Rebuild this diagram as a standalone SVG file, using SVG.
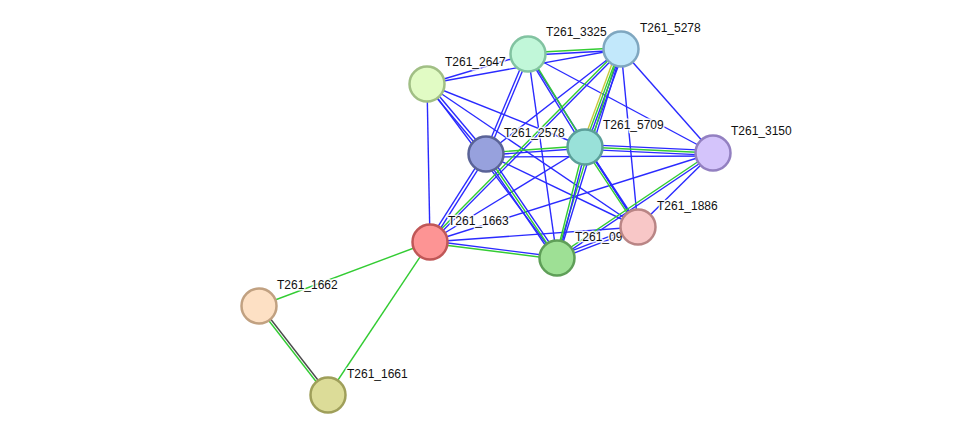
<svg xmlns="http://www.w3.org/2000/svg" width="976" height="441" viewBox="0 0 976 441">
  <style>
    .e line { stroke-width: 1.4; fill: none; }
    .b { stroke: #2a2aff; }
    .g { stroke: #33cc33; }
    .y { stroke: #c8c83c; }
    .k { stroke: #4a4a4a; }
    .lbl { font-family: "Liberation Sans", Arial, sans-serif; font-size: 12px; fill: #111; stroke: #fff; stroke-width: 3; stroke-opacity: 0.85; paint-order: stroke; stroke-linejoin: round; }
    .n circle { stroke-width: 2.5; }
  </style>
  <rect width="976" height="441" fill="#fff"/>

  <!-- connectors -->
  <g id="edges" class="e">
    <!-- single-evidence links -->
    <line class="b" x1="427" y1="84" x2="528" y2="54"/>
    <line class="b" x1="427" y1="84" x2="621" y2="49"/>
    <line class="b" x1="427" y1="84" x2="585" y2="147"/>
    <line class="b" x1="427" y1="84" x2="638" y2="227"/>
    <line class="b" x1="427" y1="84" x2="557" y2="258"/>
    <line class="b" x1="427" y1="84" x2="430" y2="242"/>
    <line class="b" x1="528" y1="54" x2="713" y2="153"/>
    <line class="b" x1="528" y1="54" x2="638" y2="227"/>
    <line class="b" x1="528" y1="54" x2="557" y2="258"/>
    <line class="b" x1="621" y1="49" x2="713" y2="153"/>
    <line class="b" x1="621" y1="49" x2="638" y2="227"/>
    <line class="b" x1="621" y1="49" x2="486" y2="154"/>
    <line class="b" x1="486" y1="157" x2="713" y2="156"/>
    <line class="b" x1="486" y1="154" x2="638" y2="227"/>
    <line class="b" x1="713" y1="153" x2="638" y2="227"/>
    <line class="b" x1="713" y1="153" x2="430" y2="242"/>
    <line class="b" x1="585" y1="147" x2="430" y2="242"/>
    <line class="b" x1="638" y1="227" x2="430" y2="242"/>
    <line class="g" x1="430" y1="242" x2="259" y2="306"/>
    <line class="g" x1="430" y1="242" x2="328" y2="395"/>

    <!-- multi-evidence bundles, drawn along the local x axis -->
    <g transform="translate(528 54) rotate(-3.08)">
      <line class="g" x2="93.1" y1="-1.2" y2="-1.2"/>
      <line class="b" x2="93.1" y1="1.2" y2="1.2"/>
    </g>
    <g transform="translate(528 54) rotate(112.8)">
      <line class="b" x2="108.5" y1="-1.5" y2="-1.5"/>
      <line class="b" x2="108.5" y1="1.5" y2="1.5"/>
    </g>
    <g transform="translate(528 54) rotate(58.5)">
      <line class="g" x2="109.1" y1="-1.2" y2="-1.2"/>
      <line class="b" x2="109.1" y1="1.2" y2="1.2"/>
    </g>
    <g transform="translate(621 49) rotate(110.2)">
      <line class="y" x2="104.4" y1="3.3" y2="3.3"/>
      <line class="g" x2="104.4" y1="1.1" y2="1.1"/>
      <line class="b" x2="104.4" y1="-1.1" y2="-1.1"/>
      <line class="b" x2="104.4" y1="-3.3" y2="-3.3"/>
    </g>
    <g transform="translate(621 49) rotate(134.7)">
      <line class="g" x2="271.5" y1="1.2" y2="1.2"/>
      <line class="b" x2="271.5" y1="-1.2" y2="-1.2"/>
    </g>
    <g transform="translate(621 49) rotate(107)">
      <line class="g" x2="218.6" y1="1.2" y2="1.2"/>
      <line class="b" x2="218.6" y1="-1.2" y2="-1.2"/>
    </g>
    <g transform="translate(486 154) rotate(-4.04)">
      <line class="g" x2="99.2" y1="-1.2" y2="-1.2"/>
      <line class="b" x2="99.2" y1="1.2" y2="1.2"/>
    </g>
    <g transform="translate(486 154) rotate(122.5)">
      <line class="b" x2="104.3" y1="-1.5" y2="-1.5"/>
      <line class="b" x2="104.3" y1="1.5" y2="1.5"/>
    </g>
    <g transform="translate(486 154) rotate(55.7)">
      <line class="b" x2="125.9" y1="-2.4" y2="-2.4"/>
      <line class="g" x2="125.9"/>
      <line class="b" x2="125.9" y1="2.4" y2="2.4"/>
    </g>
    <g transform="translate(427 84) rotate(49.9)">
      <line class="b" x2="91.5" y1="-1.5" y2="-1.5"/>
      <line class="b" x2="91.5" y1="1.5" y2="1.5"/>
    </g>
    <g transform="translate(585 147) rotate(2.68)">
      <line class="b" x2="128.1" y1="-2.4" y2="-2.4"/>
      <line class="g" x2="128.1"/>
      <line class="b" x2="128.1" y1="2.4" y2="2.4"/>
    </g>
    <g transform="translate(585 147) rotate(56.5)">
      <line class="b" x2="96" y1="-1.2" y2="-1.2" style="stroke-width:2"/>
      <line class="g" x2="96" y1="1.2" y2="1.2"/>
    </g>
    <g transform="translate(585 147) rotate(104.2)">
      <line class="g" x2="114.5" y1="1.2" y2="1.2"/>
      <line class="b" x2="114.5" y1="-1.2" y2="-1.2"/>
    </g>
    <g transform="translate(713 153) rotate(146.06)">
      <line class="g" x2="188" y1="1.2" y2="1.2"/>
      <line class="b" x2="188" y1="-1.2" y2="-1.2"/>
    </g>
    <g transform="translate(430 242) rotate(7.18)">
      <line class="b" x2="128" y1="-1.2" y2="-1.2"/>
      <line class="g" x2="128" y1="1.2" y2="1.2"/>
    </g>
    <g transform="translate(638 227) rotate(159.06)">
      <line class="b" x2="86.7" y1="-1.5" y2="-1.5"/>
      <line class="b" x2="86.7" y1="1.5" y2="1.5"/>
    </g>
    <g transform="translate(259 306) rotate(52.2)">
      <line class="g" x2="112.6" y1="1.2" y2="1.2"/>
      <line class="k" x2="112.6" y1="-1.2" y2="-1.2"/>
    </g>
  </g>

  <!-- labels -->
  <g id="labels">
    <text class="lbl" x="546" y="36">T261_3325</text>
    <text class="lbl" x="640" y="32">T261_5278</text>
    <text class="lbl" x="445" y="66">T261_2647</text>
    <text class="lbl" x="504" y="137">T261_2578</text>
    <text class="lbl" x="603" y="129">T261_5709</text>
    <text class="lbl" x="731" y="135">T261_3150</text>
    <text class="lbl" x="657" y="210">T261_1886</text>
    <text class="lbl" x="448" y="225">T261_1663</text>
    <text class="lbl" x="575" y="241">T261_09</text>
    <text class="lbl" x="277" y="289">T261_1662</text>
    <text class="lbl" x="347" y="378">T261_1661</text>
  </g>

  <!-- nodes -->
  <g class="n">
    <g id="T261_3325"><circle cx="528" cy="54" r="17.5" fill="#c1f7d9" stroke="#82c3a1"/></g>
    <g id="T261_5278"><circle cx="621" cy="49" r="17.5" fill="#c2e8fb" stroke="#7fa7c0"/></g>
    <g id="T261_2647"><circle cx="427" cy="84" r="17.5" fill="#e1fbc4" stroke="#a1bf85"/></g>
    <g id="T261_2578"><circle cx="486" cy="154" r="17.5" fill="#97a1dd" stroke="#5a6397"/></g>
    <g id="T261_5709"><circle cx="585" cy="147" r="17.5" fill="#99e1d9" stroke="#5b9f99"/></g>
    <g id="T261_3150"><circle cx="713" cy="153" r="17.5" fill="#d4c4fb" stroke="#9380c1"/></g>
    <g id="T261_09"><circle cx="557" cy="258" r="17.5" fill="#9ee095" stroke="#5f9f58"/></g>
    <g id="T261_1886"><circle cx="638" cy="227" r="17.5" fill="#f8c7c7" stroke="#b98585"/></g>
    <g id="T261_1663"><circle cx="430" cy="242" r="17.5" fill="#fd9494" stroke="#c05757"/></g>
    <g id="T261_1662"><circle cx="259" cy="306" r="17.5" fill="#fde0c4" stroke="#c1a181"/></g>
    <g id="T261_1661"><circle cx="328" cy="395" r="17.5" fill="#dcdc98" stroke="#9f9f5a"/></g>
  </g>
</svg>
